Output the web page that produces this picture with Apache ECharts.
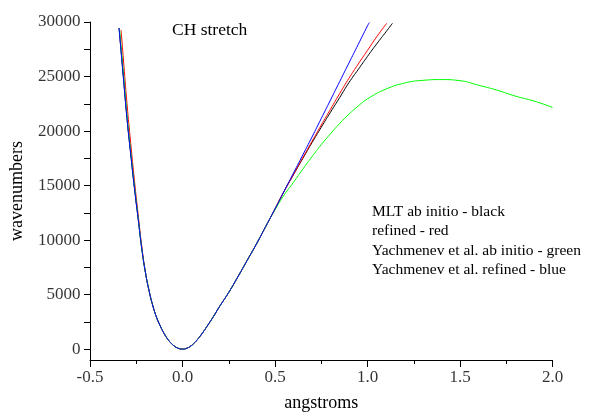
<!DOCTYPE html>
<html>
<head>
<meta charset="utf-8">
<script src="https://cdn.jsdelivr.net/npm/echarts@6/dist/echarts.min.js"></script>
<style>html,body{margin:0;padding:0;background:#fff;}#c{width:590px;height:417px;}</style>
</head>
<body>
<div id="c"></div>
<script>
// Shared left branch (all curves nearly coincide)
const xLeft = [-0.343, -0.32, -0.30, -0.28, -0.26, -0.24, -0.22, -0.20, -0.18, -0.16, -0.14, -0.12, -0.10, -0.08, -0.06, -0.04, -0.02, 0.00];
const yLeft = [29450, 25000, 21150, 17900, 14800, 12000, 9200, 7000, 5300, 3950, 2900, 2110, 1450, 915, 512, 226, 56, 0];
// Shared right branch near the minimum
const xRight = [0.02, 0.04, 0.06, 0.08, 0.10, 0.125, 0.15, 0.175, 0.20, 0.25, 0.30, 0.35, 0.40, 0.45, 0.50, 0.55];
const yRight = [58, 225, 500, 860, 1290, 1900, 2530, 3200, 3900, 5200, 6650, 8150, 9650, 11250, 12850, 14500];

// Red's own top-left part
const xRedLeft = [-0.332, -0.32, -0.30, -0.28, -0.26, -0.24, -0.22];
const yRedLeft = [29250, 26700, 22500, 18900, 15500, 12400, 9400];
// Green's own top-left part
const xGreenLeft = [-0.340, -0.32, -0.30, -0.28, -0.26, -0.24];
const yGreenLeft = [29350, 25500, 21500, 18100, 15000, 12100];

// Upper right parts
const xBlackUp = [0.60, 0.65, 0.70, 0.75, 0.80, 0.85, 0.90, 0.95, 1.00, 1.05, 1.10, 1.135];
const yBlackUp = [16000, 17480, 18930, 20350, 21730, 23080, 24450, 25650, 26850, 28000, 29100, 29880];
const xRedUp = [0.60, 0.65, 0.70, 0.75, 0.80, 0.85, 0.90, 0.95, 1.00, 1.05, 1.104];
const yRedUp = [16020, 17550, 19050, 20550, 22000, 23450, 24850, 26150, 27400, 28650, 29880];
const xBlueUp = [0.60, 0.65, 0.70, 0.75, 0.80, 0.85, 0.90, 0.95, 1.00, 1.01];
const yBlueUp = [16150, 17800, 19450, 21150, 22850, 24550, 26250, 27950, 29650, 29950];
const xGreenUp = [0.50, 0.55, 0.60, 0.65, 0.70, 0.75, 0.80, 0.85, 0.90, 0.95, 1.00, 1.10, 1.20, 1.30, 1.40, 1.50, 1.60, 1.70, 1.80, 1.90, 2.00];
const yGreenUp = [12780, 14150, 15300, 16500, 17650, 18750, 19750, 20700, 21550, 22300, 22950, 23850, 24400, 24650, 24720, 24620, 24200, 23750, 23200, 22750, 22170];

// Tick labels
const xTickValues = [-0.5, 0.0, 0.5, 1.0, 1.5, 2.0];
const xTickLabels = ['-0.5', '0.0', '0.5', '1.0', '1.5', '2.0'];
const yTickValues = [0, 5000, 10000, 15000, 20000, 25000, 30000];
const yTickLabels = ['0', '5000', '10000', '15000', '20000', '25000', '30000'];
const yAllTicks = [0, 2500, 5000, 7500, 10000, 12500, 15000, 17500, 20000, 22500, 25000, 27500, 30000];

const seriesNames = ['MLT ab initio - black', 'refined - red', 'Yachmenev et al. ab initio - green', 'Yachmenev et al. refined - blue'];

function pairs(xs, ys, from, to) {
  const out = [];
  for (let i = 0; i < xs.length; i++) {
    if ((from === undefined || xs[i] >= from) && (to === undefined || xs[i] <= to)) out.push([xs[i], ys[i]]);
  }
  return out;
}
const common = pairs(xLeft, yLeft).concat(pairs(xRight, yRight));
const blackData = common.concat(pairs(xBlackUp, yBlackUp));
const redData = pairs(xRedLeft, yRedLeft).concat(pairs(xLeft, yLeft, -0.205)).concat(pairs(xRight, yRight)).concat(pairs(xRedUp, yRedUp));
const greenData = pairs(xGreenLeft, yGreenLeft).concat(pairs(xLeft, yLeft, -0.225)).concat(pairs(xRight, yRight, undefined, 0.46)).concat(pairs(xGreenUp, yGreenUp));
const blueData = common.concat(pairs(xBlueUp, yBlueUp));

const X_MIN = -0.5, Y_MIN = -1000;
const FONT = 'Liberation Serif';
const chart = echarts.init(document.getElementById('c'));

function lineSeries(name, data, color, z) {
  return {
    name: name, type: 'line', data: data, showSymbol: false, symbol: 'none',
    smooth: 0.5, z: z,
    lineStyle: {color: color, width: 1}, itemStyle: {color: color}
  };
}
function tickLabelSeries(data, position) {
  return {
    type: 'scatter', data: data, symbol: 'circle', symbolSize: 1, clip: false, silent: true, z: 1,
    itemStyle: {color: 'rgba(0,0,0,0)'}, emphasis: {disabled: true},
    label: {show: true, formatter: '{b}', position: position, distance: 9,
      fontFamily: FONT, fontSize: 17, color: '#000'}
  };
}
const xLabelData = xTickValues.map(function (v, i) { return {name: xTickLabels[i], value: [v, Y_MIN]}; });
const yLabelData = yTickValues.map(function (v, i) { return {name: yTickLabels[i], value: [X_MIN, v]}; });

chart.setOption({
  animation: false,
  grid: {left: 90, top: 22, width: 462.5, height: 341.3},
  xAxis: {
    type: 'value', min: X_MIN, max: 2.0, interval: 0.5,
    name: 'angstroms', nameLocation: 'middle', nameGap: 34,
    nameTextStyle: {fontFamily: FONT, fontSize: 18, color: '#000'},
    axisLine: {onZero: false, lineStyle: {color: '#000', width: 1}},
    axisTick: {show: true, length: 7, lineStyle: {color: '#000'}},
    minorTick: {show: true, splitNumber: 2, length: 4, lineStyle: {color: '#000'}},
    axisLabel: {show: false},
    splitLine: {show: false}
  },
  yAxis: {
    type: 'value', min: Y_MIN, max: 30000,
    name: 'wavenumbers', nameLocation: 'middle', nameGap: 64,
    nameTextStyle: {fontFamily: FONT, fontSize: 18, color: '#000'},
    axisLine: {show: true, onZero: false, lineStyle: {color: '#000', width: 1}},
    axisTick: {show: true, length: 6, lineStyle: {color: '#000'}, customValues: yAllTicks},
    axisLabel: {show: false},
    splitLine: {show: false}
  },
  graphic: [{
    type: 'text', left: 172, top: 21,
    style: {text: 'CH stretch', fontFamily: FONT, fontSize: 17.5, fill: '#000'}
  }, {
    type: 'text', left: 372, top: 202,
    style: {text: seriesNames.join('\n'), fontFamily: FONT, fontSize: 15.5, lineHeight: 19.5, fill: '#000'}
  }],
  series: [
    lineSeries(seriesNames[0], blackData, '#000000', 2),
    lineSeries(seriesNames[1], redData, '#ff0000', 3),
    lineSeries(seriesNames[2], greenData, '#00ff00', 4),
    lineSeries(seriesNames[3], blueData, '#0000ff', 5),
    tickLabelSeries(xLabelData, 'bottom'),
    tickLabelSeries(yLabelData, 'left')
  ]
});
</script>
</body>
</html>
